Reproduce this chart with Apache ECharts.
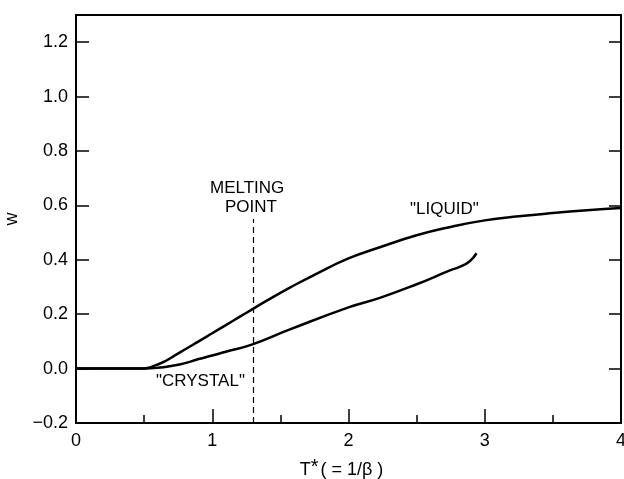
<!DOCTYPE html>
<html>
<head>
<meta charset="utf-8">
<script src="https://cdn.jsdelivr.net/npm/echarts@6/dist/echarts.min.js"></script>
<style>html,body{margin:0;padding:0;background:#fff}#c{width:624px;height:479px}</style>
</head>
<body>
<div id="c"></div>
<script>
// Data
var liquidT = [0, 0.45, 0.6, 0.76, 0.9, 1.0, 1.1, 1.2, 1.29, 1.4, 1.57, 1.75, 2.0, 2.23, 2.5, 2.74, 3.0, 3.25, 3.5, 3.75, 4.0];
var liquidW = [0, 0, 0.015, 0.059, 0.10, 0.13, 0.16, 0.19, 0.217, 0.25, 0.298, 0.345, 0.405, 0.446, 0.49, 0.52, 0.545, 0.56, 0.572, 0.582, 0.59];
var crystalT = [0, 0.5, 0.6, 0.76, 0.9, 1.0, 1.1, 1.29, 1.57, 2.0, 2.23, 2.5, 2.74, 2.82, 2.89, 2.94];
var crystalW = [0, 0, 0.003, 0.015, 0.035, 0.048, 0.062, 0.088, 0.144, 0.225, 0.26, 0.31, 0.36, 0.375, 0.395, 0.424];
var meltingT = 1.3;
var meltingLine = [-0.2, 0.55];
var xTicks = [0, 1, 2, 3, 4];
var yTicks = [-0.2, 0.0, 0.2, 0.4, 0.6, 0.8, 1.0, 1.2];

function pairs(xs, ys) { return xs.map(function (x, i) { return [x, ys[i]]; }); }
var FONT = 'Liberation Sans';
var ANN = '17px "Liberation Sans"';

var chart = echarts.init(document.getElementById('c'), null, {renderer: 'canvas'});
chart.setOption({
  animation: false,
  backgroundColor: '#fff',
  textStyle: {fontFamily: FONT, color: '#000'},
  grid: {left: 76, right: 3, top: 15, bottom: 56, show: true, borderColor: '#000', borderWidth: 2,
         containLabel: false, outerBoundsMode: 'none'},
  xAxis: {
    type: 'value', min: xTicks[0], max: xTicks[xTicks.length - 1], interval: 1,
    axisLine: {onZero: false, lineStyle: {color: '#000', width: 2}},
    axisTick: {inside: true, length: 14, lineStyle: {color: '#000', width: 1.5}},
    minorTick: {show: true, splitNumber: 2, length: 8, lineStyle: {color: '#000', width: 1.5}},
    splitLine: {show: false},
    axisLabel: {fontSize: 18, color: '#000', margin: 9, fontFamily: FONT},
    name: '{t|T}{s|*}{t|( = 1/β )}', nameLocation: 'middle', nameGap: 34,
    nameTextStyle: {padding: [0, 14, 0, 0], rich: {t: {fontSize: 18, fontFamily: FONT, color: '#000'}, s: {fontSize: 20, fontFamily: FONT, color: '#000', verticalAlign: 'top', padding: [0, 2, 6, 0]}}}
  },
  yAxis: [{
    type: 'value', min: yTicks[0], max: 1.3, interval: 0.2,
    axisLine: {onZero: false, lineStyle: {color: '#000', width: 2}},
    axisTick: {inside: true, length: 13, lineStyle: {color: '#000', width: 1.5}},
    splitLine: {show: false},
    axisLabel: {fontSize: 18, color: '#000', margin: 8, showMaxLabel: false, fontFamily: FONT,
      formatter: function (v) { var s = Math.abs(v).toFixed(1); return v < -1e-9 ? '\u2212' + s : s; }},
    name: 'w', nameLocation: 'middle', nameGap: 55, nameRotate: 90,
    nameTextStyle: {fontSize: 18, fontFamily: FONT, color: '#000'}
  }, {
    type: 'value', min: yTicks[0], max: 1.3, interval: 0.2, position: 'right',
    axisLine: {show: true, onZero: false, lineStyle: {color: '#000', width: 2}},
    axisTick: {inside: true, length: 12, lineStyle: {color: '#000', width: 1.5}},
    axisLabel: {show: false}, splitLine: {show: false}
  }],
  graphic: [
    {type: 'text', left: 210, top: 180, style: {text: 'MELTING', font: ANN, fill: '#000'}},
    {type: 'text', left: 225, top: 199, style: {text: 'POINT', font: ANN, fill: '#000'}},
    {type: 'text', left: 410, top: 201, style: {text: '"LIQUID"', font: ANN, fill: '#000'}},
    {type: 'text', left: 156, top: 373, style: {text: '"CRYSTAL"', font: ANN, fill: '#000'}}
  ],
  series: [{
    type: 'line', name: 'liquid', data: pairs(liquidT, liquidW), smooth: 0.5, showSymbol: false,
    lineStyle: {color: '#000', width: 2.5},
    markLine: {
      silent: true, symbol: 'none', label: {show: false},
      lineStyle: {color: '#000', width: 1.2, type: [6, 4]},
      data: [[{coord: [meltingT, meltingLine[0]]}, {coord: [meltingT, meltingLine[1]]}]]
    }
  }, {
    type: 'line', name: 'crystal', data: pairs(crystalT, crystalW), smooth: 0.5, showSymbol: false,
    lineStyle: {color: '#000', width: 2.5}
  }]
});
</script>
</body>
</html>
